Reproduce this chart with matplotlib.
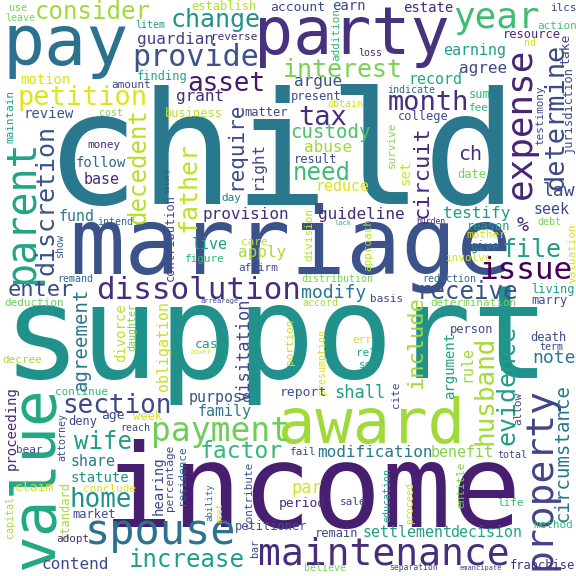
import matplotlib
matplotlib.use("Agg")
import matplotlib.pyplot as plt
from matplotlib.textpath import TextPath
from matplotlib.font_manager import FontProperties

# ---- data: words and their cloud weights (font size in px) ----
words = [
    "child", "support", "income", "marriage", "party", "pay", "award", "value",
    "property", "expense", "spouse", "maintenance", "parent", "year",
    # top-left
    "use", "leave", "consider", "establish", "account", "change", "provide", "guardian",
    "litem", "reverse", "motion", "finding", "asset", "amount", "petition", "grant",
    "review", "cost", "business", "matter", "require", "maintain", "decedent", "father",
    "right", "follow", "base", "money", "day", "salary", "contribution", "intend",
    "fund", "show", "provision", "live", "care", "apply", "figure", "affirm",
    "remand", "enter", "dissolution", "deduction", "arrearage", "agreement", "divorce", "daughter",
    "obligation", "visitation", "cash", "power", "portion", "decree", "discretion",
    # top-right
    "earn", "estate", "addition", "ilcs", "action", "resource", "nd", "take",
    "loss", "earning", "interest", "agree", "determine", "jurisdiction", "testimony", "argue",
    "record", "indicate", "present", "month", "sum", "obtain", "fee", "tax",
    "college", "custody", "survive", "circuit", "abuse", "ch", "result", "need",
    "set", "date", "reduce", "law",
    # middle-right
    "guideline", "testify", "seek", "%", "division", "lack", "burden", "approach",
    "reason", "debt", "mother", "valuation", "file", "give", "involve", "issue",
    "distribution", "reduction", "receive", "modify", "living", "basis", "marry", "accord",
    "determination", "include", "person", "presumption", "err", "argument", "rule", "evidence",
    "husband", "death", "term", "note", "rely", "son",
    # bottom-left
    "continue", "section", "proceeding", "purpose", "family", "age", "deny", "week",
    "reach", "payment", "wife", "factor", "share", "statute", "conclude", "home",
    "hearing", "percentage", "residence", "ability", "meet", "contribute", "standard", "attorney",
    "market", "petitioner", "adopt", "bar", "increase", "contend", "capital", "claim",
    "bear",
    # bottom-right
    "report", "shall", "cite", "allow", "circumstance", "fail", "modification", "benefit",
    "total", "par", "period", "sale", "education", "proceed", "entitle", "life",
    "method", "remain", "settlement", "decision", "believe", "separation", "emancipate", "franchise",
]

font_sizes = [
    157, 130, 116, 92, 65, 70, 62, 61,
    38, 36, 42, 38, 40, 36,
    10, 10, 24, 12, 13, 25, 30, 16,
    10, 11, 14, 12, 26, 11, 27, 16,
    14, 10, 12, 12, 21, 11, 24, 25,
    16, 14, 15, 11, 11, 7, 12, 10,
    15, 10, 16, 15, 11, 16, 11, 11,
    10, 22, 31, 11, 7, 19, 14, 10,
    15, 17, 13, 7, 11, 11, 25,
    14, 14, 11, 11, 11, 12, 10, 13,
    10, 15, 25, 16, 27, 12, 11, 16,
    15, 10, 12, 27, 12, 10, 11, 27,
    12, 19, 11, 22, 16, 20, 12, 24,
    14, 12, 15, 18,
    16, 16, 15, 20, 11, 7, 8, 11,
    12, 10, 11, 11, 25, 12, 11, 31,
    10, 10, 24, 18, 12, 11, 12, 10,
    11, 22, 12, 10, 11, 14, 15, 25,
    26, 12, 10, 18, 11, 11,
    11, 26, 14, 15, 15, 13, 12, 12,
    10, 33, 24, 23, 15, 14, 11, 26,
    14, 11, 11, 9, 8, 11, 12, 10,
    12, 12, 11, 10, 24, 16, 10, 13,
    11,
    13, 17, 11, 11, 19, 11, 16, 15,
    10, 17, 13, 11, 10, 10, 11, 11,
    11, 12, 15, 15, 10, 8, 7, 12,
]

# ---- layout: body centre (x, y) in px, vertical flag, colour ----
layout = [
    (281, 161, 0, "#2a788e"), (277, 343, 0, "#21918c"), (314, 495, 0, "#481f70"), (290, 248, 0, "#3b528b"),
    (354, 36, 0, "#46327e"), (68, 46, 0, "#2c728e"), (370, 426, 0, "#a0da39"), (36, 478, 1, "#22a884"),
    (540, 477, 1, "#414487"), (521, 123, 1, "#482475"), (161, 533, 0, "#2c728e"), (384, 554, 0, "#472d7b"),
    (22, 212, 1, "#20a486"), (497, 18, 0, "#3fbc73"),
    # top-left
    (18, 8, 0, "#7ad151"), (20, 18, 0, "#7ad151"), (93, 12, 0, "#a0da39"), (224, 7, 0, "#b5de2b"),
    (297, 7, 0, "#3e4989"), (216, 20, 0, "#21918c"), (196, 58, 0, "#3b528b"), (175, 40, 0, "#414487"),
    (150, 25, 0, "#1f9e89"), (235, 37, 0, "#482878"), (45, 80, 0, "#dde318"), (162, 77, 0, "#22a884"),
    (226, 84, 0, "#481a6c"), (131, 85, 0, "#3e4989"), (83, 98, 0, "#e2e418"), (200, 97, 0, "#472d7b"),
    (50, 114, 0, "#3b528b"), (111, 113, 0, "#86d549"), (194, 114, 0, "#bddf26"), (266, 113, 0, "#414487"),
    (236, 145, 1, "#3e4989"), (10, 117, 1, "#1f9e89"), (139, 167, 1, "#bade28"), (189, 186, 1, "#c2df23"),
    (258, 165, 1, "#3e4989"), (102, 163, 0, "#31688e"), (102, 180, 0, "#472d7b"), (104, 145, 0, "#482878"),
    (231, 198, 0, "#2a788e"), (167, 180, 1, "#3e4989"), (171, 238, 1, "#3e4989"), (115, 222, 0, "#31688e"),
    (77, 217, 0, "#2a788e"), (60, 245, 1, "#31688e"), (246, 215, 0, "#472d7b"), (210, 245, 0, "#1f9e89"),
    (254, 242, 0, "#b5de2b"), (262, 253, 0, "#a8db34"), (205, 259, 0, "#35b779"), (258, 268, 0, "#3e4989"),
    (76, 279, 0, "#31688e"), (41, 290, 0, "#3e4989"), (198, 291, 0, "#472d7b"), (34, 303, 0, "#6ece58"),
    (219, 301, 0, "#3e4989"), (82, 340, 1, "#2a788e"), (121, 332, 1, "#bddf26"), (133, 327, 1, "#7ad151"),
    (164, 346, 1, "#c8e020"), (245, 350, 1, "#3e4989"), (210, 344, 0, "#1f9e89"), (201, 352, 0, "#d8e219"),
    (290, 342, 1, "#c8e020"), (22, 360, 0, "#a5db36"), (47, 200, 1, "#3b528b"),
    # top-right
    (349, 6, 0, "#3e4989"), (428, 8, 0, "#482878"), (336, 35, 1, "#35b779"), (563, 8, 0, "#3e4989"),
    (557, 26, 0, "#4ac16d"), (532, 35, 0, "#482878"), (530, 43, 0, "#d8e219"), (566, 49, 1, "#3e4989"),
    (370, 53, 0, "#482878"), (474, 51, 0, "#1f9e89"), (343, 70, 0, "#7ad151"), (483, 69, 0, "#3e4989"),
    (556, 117, 1, "#3e4989"), (569, 110, 1, "#3e4989"), (540, 115, 1, "#3e4989"), (318, 82, 0, "#3b528b"),
    (436, 80, 0, "#22a884"), (411, 90, 0, "#31688e"), (316, 97, 0, "#3e4989"), (428, 103, 0, "#472d7b"),
    (480, 95, 0, "#35b779"), (345, 104, 0, "#d8e219"), (479, 108, 0, "#35b779"), (323, 118, 0, "#472d7b"),
    (423, 117, 0, "#3e4989"), (331, 133, 0, "#4ac16d"), (392, 145, 1, "#86d549"), (422, 172, 1, "#482878"),
    (328, 148, 0, "#a0da39"), (470, 155, 0, "#472d7b"), (316, 160, 0, "#3e4989"), (322, 173, 0, "#3fbc73"),
    (406, 172, 1, "#d0e11c"), (472, 175, 0, "#7ad151"), (343, 187, 0, "#dde318"), (560, 191, 0, "#3e4989"),
    # middle-right
    (361, 215, 0, "#472d7b"), (477, 214, 0, "#1f988b"), (552, 210, 0, "#3e4989"), (523, 226, 0, "#472d7b"),
    (309, 235, 1, "#b5de2b"), (343, 223, 0, "#35b779"), (431, 222, 0, "#482878"), (368, 245, 1, "#b5de2b"),
    (489, 227, 0, "#1f9e89"), (549, 222, 0, "#7ad151"), (486, 235, 0, "#d8e219"), (572, 253, 1, "#d8e219"),
    (532, 250, 0, "#1f9e89"), (485, 247, 0, "#2a788e"), (468, 258, 0, "#d8e219"), (526, 271, 0, "#440154"),
    (337, 279, 0, "#7ad151"), (450, 279, 0, "#31688e"), (469, 292, 0, "#3b528b"), (334, 293, 0, "#2a788e"),
    (553, 290, 0, "#1f9e89"), (387, 299, 0, "#3e4989"), (550, 301, 0, "#3e4989"), (320, 303, 0, "#a5db36"),
    (473, 303, 0, "#7ad151"), (416, 342, 1, "#a0da39"), (472, 330, 0, "#3e4989"), (322, 362, 1, "#d8e219"),
    (362, 340, 0, "#d8e219"), (450, 366, 1, "#1f9e89"), (467, 363, 1, "#a0da39"), (508, 385, 1, "#1f9e89"),
    (485, 390, 1, "#a5db36"), (548, 338, 0, "#3e4989"), (551, 347, 0, "#3e4989"), (554, 358, 0, "#2a788e"),
    (370, 353, 0, "#1f9e89"), (369, 365, 0, "#1f9e89"),
    # bottom-left
    (82, 392, 0, "#35b779"), (117, 406, 0, "#3e4989"), (12, 428, 1, "#482878"), (220, 398, 0, "#3b528b"),
    (225, 412, 0, "#2a788e"), (113, 415, 0, "#3e4989"), (83, 422, 0, "#3e4989"), (147, 417, 0, "#d8e219"),
    (136, 428, 0, "#3e4989"), (220, 432, 0, "#6ece58"), (102, 442, 0, "#1f9e89"), (242, 452, 0, "#35b779"),
    (93, 462, 0, "#2a788e"), (100, 478, 0, "#21918c"), (110, 489, 0, "#dde318"), (101, 500, 0, "#21918c"),
    (159, 485, 1, "#3e4989"), (170, 478, 1, "#3e4989"), (182, 475, 1, "#31688e"), (210, 502, 1, "#2a788e"),
    (220, 513, 1, "#d8e219"), (249, 495, 1, "#3b528b"), (65, 510, 1, "#a5db36"), (63, 437, 1, "#3e4989"),
    (94, 515, 0, "#3e4989"), (271, 527, 0, "#3b528b"), (73, 539, 0, "#472d7b"), (255, 548, 1, "#3e4989"),
    (187, 560, 0, "#1f9e89"), (75, 565, 0, "#3e4989"), (10, 517, 1, "#a5db36"), (35, 487, 0, "#d8e219"),
    (30, 450, 0, "#3e4989"),
    # bottom-right
    (304, 392, 0, "#3b528b"), (360, 393, 0, "#1f9e89"), (396, 395, 1, "#3e4989"), (518, 408, 1, "#3e4989"),
    (563, 453, 1, "#2a788e"), (303, 452, 0, "#3e4989"), (375, 453, 0, "#2a788e"), (462, 453, 0, "#86d549"),
    (512, 455, 0, "#3e4989"), (307, 488, 0, "#d8e219"), (302, 503, 0, "#472d7b"), (353, 502, 0, "#3e4989"),
    (388, 495, 1, "#1f9e89"), (410, 503, 1, "#d8e219"), (461, 485, 1, "#7ad151"), (510, 503, 0, "#35b779"),
    (553, 525, 0, "#35b779"), (337, 534, 0, "#3e4989"), (408, 533, 0, "#1f9e89"), (486, 533, 0, "#22a884"),
    (325, 568, 0, "#7ad151"), (413, 568, 0, "#3e4989"), (481, 568, 0, "#3e4989"), (543, 566, 0, "#472d7b"),
]

FONT = FontProperties(family="DejaVu Sans Mono")
XH = 0.273  # half of x-height relative to font size

fig = plt.figure(figsize=(8, 8), dpi=72)
ax = fig.add_axes([0, 0, 1, 1])
ax.set_xlim(0, 576)
ax.set_ylim(576, 0)
ax.axis("off")
fig.patch.set_facecolor("white")

for word, fs, (cx, cy, vert, col) in zip(words, font_sizes, layout):
    ext = TextPath((0, 0), word, size=fs, prop=FONT).get_extents()
    half_len = (ext.x0 + ext.x1) / 2.0
    if vert:
        ax.text(cx + XH * fs, cy + half_len, word, fontproperties=FONT, fontsize=fs,
                color=col, rotation=90, rotation_mode="anchor", ha="left", va="baseline")
    else:
        ax.text(cx - half_len, cy + XH * fs, word, fontproperties=FONT, fontsize=fs,
                color=col, ha="left", va="baseline")

fig.savefig("out.png", dpi=72, facecolor="white")
